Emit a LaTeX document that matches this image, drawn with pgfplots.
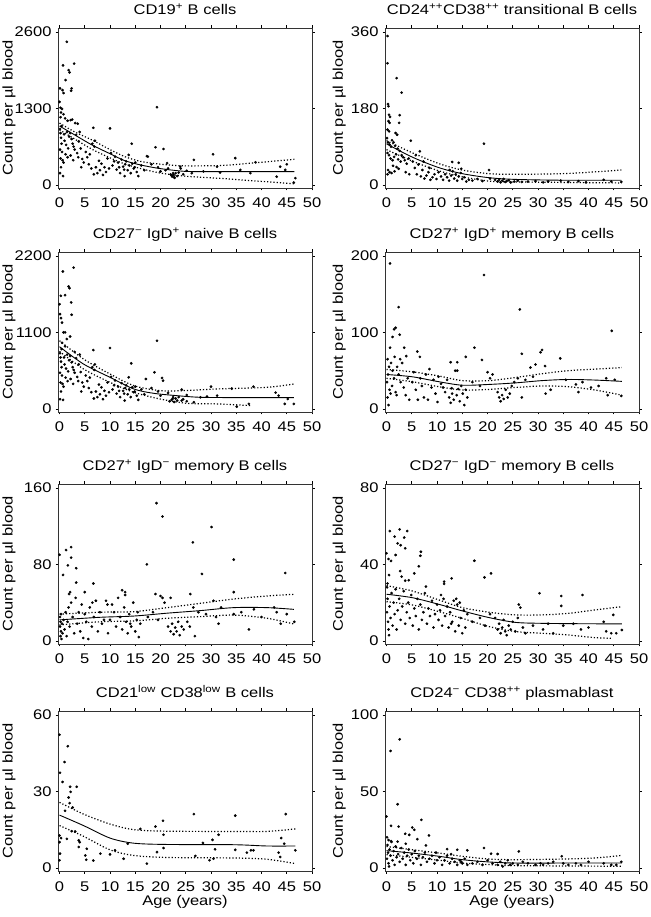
\documentclass[border=0pt]{standalone}
\usepackage{fontspec}
\setmainfont[FakeStretch=1.18]{Liberation Sans}
\usepackage{pgfplots}
\pgfplotsset{compat=1.18}
\newcommand\fs{\fontsize{14}{17}\selectfont}
\pgfplotsset{
  panel/.style={
    width=254pt, height=160pt, scale only axis,
    anchor=south west,
    xmin=-0.3, xmax=50, xtick={0,5,...,50},
    tick align=outside, major tick length=2.5pt,
    tick style={black, line width=0.6pt},
    axis line style={black!80, line width=0.9pt},
    every tick label/.append style={font=\fs},
    /pgf/number format/assume math mode=true,
    /pgf/number format/1000 sep={},
    scaled y ticks=false,
    xticklabel style={anchor=base, yshift=-17.5pt},
    yticklabel style={xshift=-0.5pt},
    title style={font=\fs, at={(axis description cs:0.5,1)}, anchor=base, yshift=7pt},
    label style={font=\fs},
    ylabel={Count per µl blood},
  },
  leftcol/.style={ylabel style={at={(axis description cs:-0.193,0.5)}, anchor=center}},
  rightcol/.style={ylabel style={at={(axis description cs:-0.180,0.5)}, anchor=center}},
  agelabel/.style={xlabel={Age (years)}, xlabel style={at={(axis description cs:0.5,0)}, anchor=base, yshift=-34pt}},
  pts/.style={only marks, mark=*, mark size=1.15pt, black, mark options={draw=none, fill=black}},
  fit/.style={no marks, black, line width=0.9pt, smooth},
  ci/.style={no marks, black, line width=1.2pt, dash pattern=on 1.2pt off 2pt, smooth},
}
\begin{document}
\begin{tikzpicture}
\useasboundingbox (0,0) rectangle (650pt,917pt);
% ---------------- Panel 1
\begin{axis}[panel, leftcol, at={(58pt,729pt)}, ymin=-52, ymax=2665, ytick={0,1300,2600},
  title={CD19\textsuperscript{+} B cells}]
\addplot[pts] coordinates {(1.45,2430)(0.7,2030)(2.9,2060)(1.8,1950)(2.0,1910)(1.2,1780)(0.1,1640)(0.6,1610)(0.8,1560)(2.4,1640)(2.3,1600)(0,1410)(0.2,1310)(0.5,1290)(0.3,1230)(0.8,1200)(0.2,1150)(1.1,1130)(2.2,1100)(2.5,1110)(1.6,1090)(3.1,1050)(3.6,1040)(6.7,970)(10.0,960)(19.3,1320)(14.3,700)(19.0,640)(20.6,610)(17.3,490)(17.5,480)(13.7,510)(26.6,425)(30.4,520)(34.8,455)(38.8,385)(43.7,310)(45,350)(46.7,115)(46.4,40)(44.7,255)(43,140)(37.8,200)(35.8,255)(31.8,210)(31.2,310)(28.5,230)(26.2,200)(23.9,310)(22.6,170)(22.3,140)(22.8,120)(23.0,200)(22.0,180)(21.3,370)(21.0,250)
(0.1,950)(0.2,880)(0.3,800)(0.4,700)(0.1,600)(0.5,560)(0.2,450)(0.6,420)(0.3,300)(0.1,200)(0.7,150)(0.4,1000)(0.9,860)(1.0,750)(1.3,680)(1.5,900)(1.7,620)(1.9,820)(1.2,520)(0.8,380)(1.6,470)
(2.1,880)(2.4,780)(2.6,700)(2.8,650)(3.0,600)(3.3,850)(3.5,540)(2.2,500)(3.7,470)(4.0,900)(4.2,620)(4.5,440)(4.8,380)(4.3,300)(2.7,420)(3.8,740)
(5.2,560)(5.5,470)(5.8,350)(6.0,520)(6.3,280)(6.5,700)(6.9,650)(7.2,300)(7.5,200)(7.8,410)(8.0,250)(8.3,360)(8.6,170)(8.9,300)(9.2,220)(9.5,450)(9.8,280)(10.2,540)(10.5,330)(6.8,180)(7.0,750)
(11.0,480)(11.3,260)(11.6,380)(12.0,200)(12.3,430)(12.6,310)(12.9,150)(13.2,400)(13.5,250)(13.8,330)(14.1,200)(14.4,360)(14.7,280)(15.0,380)(15.3,220)(15.6,150)(13.0,350)(12.8,260)(14.9,300)(11.8,300)(10.8,400)
(16.2,330)(16.8,250)(18.2,350)(19.5,300)(20.0,230)(21.5,280)(22.2,160)(22.5,200)(22.7,130)(23.3,150)(23.6,210)(24.5,180)(25.2,240)(24.0,280)};
\addplot[fit] coordinates {(0,1000)(3,850)(6.4,680)(10,530)(12.9,413)(16,340)(19.5,283)(23,245)(26,227)(35,226)(46.5,226)};
\addplot[ci] coordinates {(0,1050)(3,900)(6.4,765)(10,600)(12.9,481)(16,400)(19.5,357)(23,330)(26,323)(32,330)(38,370)(46.5,435)};
\addplot[ci] coordinates {(0,935)(3,780)(6.4,607)(10,460)(12.9,357)(16,280)(19.5,209)(23,165)(26,141)(32,110)(40,60)(46.5,20)};
\end{axis}
% ---------------- Panel 2
\begin{axis}[panel, rightcol, at={(385pt,729pt)}, ymin=-7.2, ymax=369, ytick={0,180,360},
  title={CD24\textsuperscript{++}CD38\textsuperscript{++} transitional B cells}]
\addplot[pts] coordinates {(0.2,350)(0.2,286)(2.0,251)(3.0,217)(0.3,190)(0.4,185)(0.5,165)(0.7,160)(2.6,164)(0.4,150)(0.6,146)(2.5,146)(0.2,130)(0.5,126)(1.8,122)(2.1,118)(19.3,97)(4.8,104)(6.6,79)(13,54)(14.3,52)(20.3,35)
(0.1,110)(0.3,100)(0.6,95)(0.9,90)(1.1,105)(1.4,100)(1.7,92)(2.2,85)(2.6,80)(3.0,70)(0.2,75)(0.5,70)(0.8,62)(1.2,58)(1.5,66)(1.9,72)(2.3,60)(2.8,55)(3.3,65)(3.6,58)(4.0,50)(4.4,62)(0.3,35)(0.6,30)(1.0,28)(1.6,32)(2.4,38)(3.8,30)(4.5,25)(0.2,25)(1.3,45)(2.0,42)
(5.2,55)(5.6,40)(6.0,25)(6.3,48)(6.8,20)(7.1,35)(7.5,15)(7.9,22)(8.3,30)(8.7,12)(9.1,18)(9.5,25)(9.9,14)(5.8,70)(7.3,55)(8.5,40)
(10.3,30)(10.8,20)(11.2,12)(11.6,25)(12.0,18)(12.4,10)(12.8,22)(13.1,32)(13.4,15)(13.7,25)(14.0,10)(14.3,20)(14.7,28)(15.0,14)(15.4,18)(15.8,8)(16.3,12)(12.5,35)(14.8,38)
(17,10)(18,14)(19,9)(20.5,15)(21.5,12)(22,8)(22.3,12)(22.6,6)(22.9,10)(23.2,14)(23.5,7)(23.8,9)(24.2,11)(24.6,6)(25.3,8)(26,10)(26.8,7)(28,8)(29.5,9)(31,6)(32,8)(34.5,10)(36,7)(38,9)(39.5,6)(43,12)(44.5,8)(46.5,7)};
\addplot[fit] coordinates {(0,96.6)(5.1,65.4)(10.4,40.5)(15,26.5)(20.3,17)(25.5,13)(35,11)(46.5,11)};
\addplot[ci] coordinates {(0,104)(5.1,75.6)(10.4,50)(15,35)(20.3,26.5)(25.5,25)(36,27)(46.5,35)};
\addplot[ci] coordinates {(0,83)(5.1,56)(10.4,33)(15,19)(20.3,9)(25.5,7)(46.5,4.7)};
\end{axis}
% ---------------- Panel 3
\begin{axis}[panel, leftcol, at={(58pt,505pt)}, ymin=-44, ymax=2255, ytick={0,1100,2200},
  title={CD27\textsuperscript{−} IgD\textsuperscript{+} naive B cells}]
\addplot[pts] coordinates {(2.8,2030)(0.66,1975)(1.8,1760)(1.98,1735)(0.26,1625)(1.1,1635)(2.3,1530)(0,1505)(2.4,1353)(0.1,1362)(0.3,1305)(0.5,1240)(0.8,1100)(1.1,1100)(1.45,1004)(2.1,1040)(19.3,980)(6.7,846)(10.0,875)(14.2,655)(18.8,526)(20.3,445)(20.5,406)(17.1,430)(13.7,454)
(30,320)(24.2,277)(34.1,292)(38.4,320)(42.8,234)(43.4,191)(45.2,143)(46.4,72)(44.6,72)(35.1,33)(37.5,72)(31.2,191)(29.2,177)(27.9,167)(26.6,96)(25.2,110)(24.2,120)
(0.1,800)(0.2,740)(0.3,680)(0.4,600)(0.1,520)(0.5,480)(0.2,380)(0.6,360)(0.3,250)(0.1,140)(0.7,130)(0.4,860)(0.9,740)(1.0,640)(1.3,580)(1.5,780)(1.7,540)(1.9,700)(1.2,450)(0.8,320)(1.6,400)(0.5,950)(1.1,900)
(2.1,760)(2.4,670)(2.6,600)(2.8,560)(3.0,520)(3.3,730)(3.5,460)(2.2,430)(3.7,400)(4.0,780)(4.2,530)(4.5,380)(4.8,320)(4.3,250)(2.7,360)(3.8,640)(3.0,820)
(5.2,480)(5.5,400)(5.8,300)(6.0,450)(6.3,240)(6.5,600)(6.9,560)(7.2,250)(7.5,170)(7.8,350)(8.0,210)(8.3,310)(8.6,140)(8.9,260)(9.2,190)(9.5,380)(9.8,240)(10.2,460)(10.5,280)(6.8,150)(7.0,640)
(11.0,410)(11.3,220)(11.6,320)(12.0,170)(12.3,370)(12.6,260)(12.9,120)(13.2,340)(13.5,210)(13.8,280)(14.1,170)(14.4,310)(14.7,240)(15.0,320)(15.3,190)(15.6,130)(13.0,300)(12.8,220)(14.9,250)(11.8,260)(10.8,340)
(16.2,280)(16.8,210)(18.2,300)(19.5,250)(20.0,190)(21.5,230)(22.2,130)(22.5,170)(22.7,100)(23.0,150)(23.3,120)(23.6,170)(24.5,140)(25.2,200)(21.8,110)(22.4,145)};
\addplot[fit] coordinates {(0,894)(4.75,645)(10,454)(14.7,287)(18.6,225)(23.2,191)(27.9,167)(35,163)(46.4,162)};
\addplot[ci] coordinates {(0,980)(4.75,717)(10,502)(14.7,335)(19.9,263)(24.6,263)(31.2,287)(41,310)(46.4,358)};
\addplot[ci] coordinates {(0,827)(4.75,574)(10,382)(14.7,239)(19.9,143)(25.2,81)(31.2,72)(37.8,48)};
\end{axis}
% ---------------- Panel 4
\begin{axis}[panel, rightcol, at={(385pt,505pt)}, ymin=-4, ymax=205, ytick={0,100,200},
  title={CD27\textsuperscript{+} IgD\textsuperscript{+} memory B cells}]
\addplot[pts] coordinates {(0.7,190)(19.3,175)(2.4,133)(26.4,130)(44.6,102)(1.5,104)(1.8,106)(1.2,94)(2.6,97)(0.7,80)(17.4,80)(26.8,72)(30.5,74)(30.8,77)(34.4,66)(18.9,64)(6.1,75)(6.6,68)(3.9,69)(3.5,80)(15.7,68)(12.7,61)(14,61)(31.4,56)(29.5,58)(28.5,54)
(0.2,65)(0.5,55)(0.3,45)(0.1,35)(0.6,25)(0.2,15)(0.4,5)(0.9,60)(1.2,50)(1.5,40)(1.1,30)(1.8,22)(2.1,55)(2.4,45)(2.8,35)(3.1,60)(3.4,28)(3.8,18)(4.2,40)(4.5,12)(2.0,18)(0.8,20)(1.6,68)(2.7,65)
(5.1,35)(5.4,48)(5.8,25)(6.2,12)(6.7,40)(7.0,30)(7.4,15)(7.8,45)(8.2,12)(8.5,52)(8.9,28)(9.3,38)(9.7,20)(10.1,9)(10.3,42)
(10.8,33)(11.2,28)(11.6,22)(12.0,38)(12.4,15)(12.7,8)(13.0,20)(13.3,12)(13.6,50)(13.9,18)(14.2,26)(14.5,10)(14.8,30)(15.1,20)(15.4,5)(15.7,25)(16.0,15)(12.9,27)(14.0,50)
(17.0,35)(18.5,30)(20.0,48)(20.5,40)(21.0,45)(22.0,22)(22.3,15)(22.6,10)(22.9,18)(23.2,13)(23.6,25)(24.0,15)(24.4,20)(24.8,30)(25.3,35)(26.0,40)(26.8,15)(27.5,38)(29.0,42)(31.5,20)(32.5,25)(35.5,38)(37.5,32)(38.0,22)(38.8,35)(40.5,28)(43.5,40)(43.8,18)(45.2,38)(46.5,17)(42,30)};
\addplot[fit] coordinates {(0,45)(5.1,42)(10.4,35.5)(15,31)(20.3,32)(25.5,34)(30.8,37)(36,38.5)(41.3,37.7)(46.6,36)};
\addplot[ci] coordinates {(0,51.5)(5.1,48.5)(10.4,43)(15,37)(20.3,37)(25.5,41)(30.8,46)(36,50)(41.3,52)(46.6,54)};
\addplot[ci] coordinates {(0,40)(5.1,35.5)(10.4,29)(15,24.7)(20.3,25.5)(25.5,28)(30.8,30)(36,29)(41.3,24.7)(46.6,18)};
\end{axis}
% ---------------- Panel 5
\begin{axis}[panel, leftcol, at={(58pt,273pt)}, ymin=-3.2, ymax=164, ytick={0,80,160},
  title={CD27\textsuperscript{+} IgD\textsuperscript{−} memory B cells}]
\addplot[pts] coordinates {(19.2,144)(20.4,130)(30.1,119)(26.4,103)(0,90)(1.3,95)(2.3,98)(2.3,87)(1.65,79)(3.3,76)(34.5,85)(17.3,80)(0.7,69)(28.2,70)(44.7,71)(3.3,61)(6.7,60)(5,51)(2.1,51)(1.9,49)(12.4,53)(13,51)(19,49)(25.9,49)(34.5,51)(20.4,45)(20,47)(22,45)
(0.1,25)(0.2,20)(0.1,15)(0.3,10)(0.2,5)(0.4,2)(0.5,18)(0.6,8)(0.8,22)(0.3,28)(1.0,12)(1.2,30)(1.4,5)(1.6,20)(1.8,35)(2.0,15)(2.3,40)(2.6,25)(2.9,8)(3.2,45)(3.5,18)(3.8,30)(4.1,10)(4.4,38)(4.7,3)(5.0,28)(5.3,20)(5.7,2)(6.0,35)(6.4,15)(6.8,25)(7.2,42)(7.6,10)(8.0,30)(8.4,18)(8.8,22)(9.2,42)(9.6,8)(10.0,22)(10.4,38)(10.8,30)(11.2,15)(11.6,45)(12.0,25)(12.4,12)(12.8,35)(13.2,20)(13.5,8)(13.8,28)(14.2,15)(14.6,40)(15.0,10)(15.3,22)(15.7,4)(16.0,18)(6.5,40)(9.5,38)(13.0,48)(14.0,18)(15.5,30)
(17.5,25)(18.5,30)(19.5,22)(20.8,40)(21.5,15)(22.0,10)(22.3,18)(22.6,7)(22.9,14)(23.2,10)(23.5,20)(23.8,6)(24.2,15)(24.6,12)(25.3,20)(25.8,15)(26.5,35)(26.8,5)(27.5,30)(29,28)(30.5,42)(31,25)(31.5,18)(32,35)(34.5,28)(36,30)(37.5,12)(38.5,33)(40,25)(42.5,35)(43,30)(43.8,18)(45,28)(46.5,20)};
\addplot[fit] coordinates {(0,22)(8,24.7)(14.7,26)(21.3,29)(27.9,31.7)(34.5,34.8)(41.1,34.8)(46.4,33)};
\addplot[ci] coordinates {(0,28)(8,30)(14.7,30.6)(21.3,34.8)(27.9,39.3)(34.5,43.8)(41.1,47)(46.4,48.7)};
\addplot[ci] coordinates {(0,16.7)(8,20)(14.7,20.9)(21.3,23.7)(27.9,25.4)(34.5,27)(41.1,23.7)(46.4,17.7)};
\end{axis}
% ---------------- Panel 6
\begin{axis}[panel, rightcol, at={(385pt,273pt)}, ymin=-1.6, ymax=82, ytick={0,40,80},
  title={CD27\textsuperscript{−} IgD\textsuperscript{−} memory B cells}]
\addplot[pts] coordinates {(0.66,57.4)(2.6,58.3)(4.1,57.4)(1.6,54.5)(3.5,54)(2.2,51)(2.8,50)(3.7,48.4)(0,45.8)(0.4,42.8)(0.9,41.8)(1.8,44.9)(6.8,46.6)(6.7,44.5)(6.4,39)(17.4,41.9)(20.7,35.3)(19.4,33.2)(2.7,36.5)(3,33.6)(5.5,35.3)(3.7,31.5)(4.4,31.7)(12.9,32.7)(11.4,29.8)(11.4,31)(0.2,30)(0.5,34.4)(7.8,28.4)(26.2,19)(26.5,17.4)(30.3,24.9)(34.6,23.5)(38.8,24)(34.6,18.3)(44.9,13.6)(43,10)(46.6,5.7)
(0.1,28)(0.2,22)(0.1,15)(0.3,10)(0.4,6)(0.5,3)(0.6,18)(0.8,12)(1.0,25)(1.2,8)(1.4,20)(1.6,14)(1.8,27)(2.0,6)(2.2,16)(2.5,22)(2.8,11)(3.1,18)(3.4,26)(3.7,9)(4.0,15)(4.3,20)(4.6,12)(4.9,24)(5.2,8)(5.5,17)(5.8,13)(6.1,22)(6.4,6)(6.7,19)(7.0,11)(7.3,15)(7.6,25)(8.0,9)(8.3,17)(8.6,13)(9.0,21)(9.3,7)(9.6,14)(10.0,19)(10.3,11)(10.6,16)(11.0,8)(11.3,22)(11.6,13)(12.0,18)(12.3,7)(12.6,15)(13.0,10)(13.3,21)(13.6,5)(14.0,19)(14.3,8)(14.7,12)(15.0,4)(15.3,16)(15.6,7)(16.0,14)(13.8,22)(14.5,20)(12.8,9)(10.8,24)
(17,10)(18.5,12)(19.5,8)(20.5,14)(21.5,12)(22.0,6)(22.3,9)(22.6,4)(22.9,7)(23.2,11)(23.5,5)(23.8,3)(24.2,8)(24.6,6)(25.0,10)(25.5,5)(26.0,12)(27.0,7)(27.5,4)(29,8)(31,6)(32,9)(33,4)(35,8)(37,9)(38.5,6)(40,7)(43.5,5)(44.5,4)(45.5,4)};
\addplot[fit] coordinates {(0,24.4)(5.1,22.6)(10.4,19.1)(15,15.7)(20.3,12.2)(25.5,9.7)(30.8,9.2)(38,9)(46.6,8.9)};
\addplot[ci] coordinates {(0,28.9)(5.1,26.1)(10.4,21.4)(15,17.4)(20.3,15)(25.5,13.6)(30.8,13.6)(36,14.4)(41.3,16.2)(46.6,17.9)};
\addplot[ci] coordinates {(0,20.5)(5.1,18.8)(10.4,15.3)(15,11.8)(20.3,7.5)(25.5,4.9)(30.8,4)(36,3.1)(41.3,1.7)(44.6,1.4)};
\end{axis}
% ---------------- Panel 7
\begin{axis}[panel, leftcol, agelabel, at={(58pt,46pt)}, ymin=-1.2, ymax=61.5, ytick={0,30,60},
  title={CD21\textsuperscript{low} CD38\textsuperscript{low} B cells}]
\addplot[pts] coordinates {(0,52.2)(1.65,47.7)(1,41.5)(0.1,37.3)(0.6,33.7)(3.4,31.8)(2.1,31.8)(2.2,29.8)(1.8,27.6)(2,25.4)(2.6,23.7)(1.1,22.4)(26.6,21.1)(34.8,20.5)(44.8,21.1)(20.5,18.5)(19,16.2)(0,12.7)(0.3,11.7)(1.45,11.4)(2.4,14.4)(3.1,14.3)(20.6,13)(31.5,13)(3.8,10.8)(4,10.1)(0,10.1)(43.9,11.7)(30.3,11)(28.4,9.8)(3.8,8.2)(8.1,5.6)(10,5.3)(11,6.9)(5.1,4.9)(5.3,3.2)(6.7,2.9)(5.4,7.5)(0,3)(0.1,5.6)(17.3,1.7)(19.3,6.2)(20.6,7.8)(26.9,4.7)(30.8,7.3)(29.7,3)(30.5,3.6)(34.8,7.1)(37.1,6)(37.9,6.9)(38.4,6.9)(43.4,6)(43.7,4.3)(46.7,6.9)(16,15.3)(13.5,9.5)(12.7,3.6)(44.5,9.5)};
\addplot[fit] coordinates {(0,20.7)(4.75,16.6)(10,11.7)(14.7,9.7)(21.3,9.2)(34.5,9.1)(41.1,8.6)(46.7,8.6)};
\addplot[ci] coordinates {(0,25.7)(4.75,21.1)(10,17.2)(14.7,15)(21.3,14.4)(34.5,14.3)(41.1,14.3)(46.7,15.3)};
\addplot[ci] coordinates {(0,16.6)(4.75,12.4)(10,7.1)(14.7,4.9)(21.3,4.1)(34.5,3.9)(41.1,3.4)(46.7,1.7)};
\end{axis}
% ---------------- Panel 8
\begin{axis}[panel, rightcol, agelabel, at={(385pt,46pt)}, ymin=-2, ymax=102.5, ytick={0,50,100},
  title={CD24\textsuperscript{−} CD38\textsuperscript{++} plasmablast}]
\addplot[pts] coordinates {(2.6,84)(0.8,76.4)(2.2,41.6)(0,33.6)(6.9,31.4)(0.9,27.5)(2.4,27)(5.1,26.4)(5.5,24.9)(3.7,22.3)(4.5,21.6)(6.1,18.8)(8.4,21.2)(0.4,18.2)(0.9,17.5)(2.2,17.2)(7.8,14.7)(3.8,15.8)(19.3,13)(12,12.3)(14,11.9)(16,11.5)(26.2,10.8)(20.7,9.3)(22,9.1)(34.7,7.6)
(0.1,20)(0.2,15)(0.3,10)(0.1,6)(0.4,3)(0.5,1)(0.6,12)(0.8,8)(1.0,17)(1.2,5)(1.4,11)(1.6,2)(1.8,14)(2.0,7)(2.3,9)(2.6,4)(2.9,13)(3.2,6)(3.5,10)(3.8,2)(4.1,8)(4.4,12)(4.7,5)(5.0,9)(5.3,3)(5.6,11)(6.0,6)(6.4,8)(6.8,2)(7.2,7)(7.6,10)(8.0,4)(8.5,6)(9.0,8)(9.5,3)(10.0,5)(10.5,7)(11.0,2)(11.5,5)(12.0,8)(12.5,3)(13.0,6)(13.5,4)(14.0,2)(14.5,5)(15.0,3)(15.5,6)(16.0,2)(9.8,10)(12.8,9)(14.8,4)
(17,3)(18,4)(19,2)(20,5)(21,3)(22,2)(22.5,4)(23,1)(23.5,3)(24,5)(24.5,2)(25,3)(26,2)(27,4)(28,3)(29.5,2)(30.5,3)(31,2)(32,3)(33,4)(35,3)(36,2)(37.5,3)(38.5,2)(40,4)(43,3)(44.5,2)(45.5,2)(46.5,4)};
\addplot[fit] coordinates {(0,11.3)(5.1,9.7)(10.4,7.6)(15,5.4)(20.3,3.9)(25.5,3.2)(35,3.2)(46.6,3.2)};
\addplot[ci] coordinates {(0,14)(5.1,11.9)(10.4,9.7)(15,7.6)(20.3,5.8)(25.5,5.4)(34.7,5.8)(41.3,6.5)(46.6,8.2)};
\addplot[ci] coordinates {(0,8.7)(5.1,6.9)(10.4,5)(15,3.2)(20.3,2.2)(25.5,1.5)(46.6,1.1)};
\end{axis}
\end{tikzpicture}
\end{document}
